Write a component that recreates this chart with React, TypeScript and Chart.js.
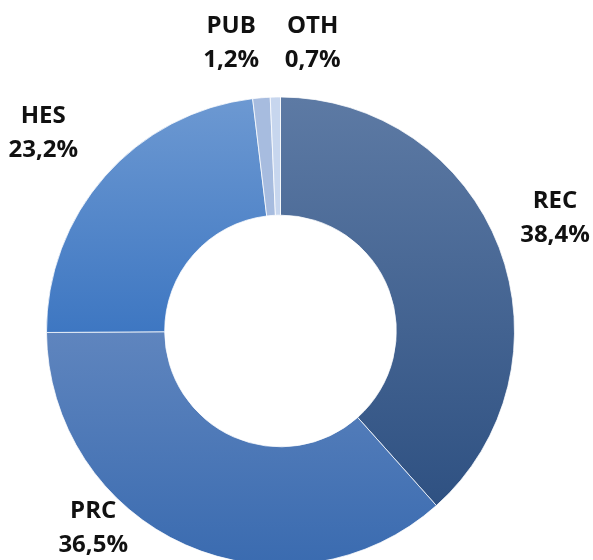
import React, { useEffect, useRef } from "react";
import { Chart, registerables } from "chart.js";

Chart.register(...registerables);

const categories = ["REC", "PRC", "HES", "PUB", "OTH"];
const shares = [38.4, 36.5, 23.2, 1.2, 0.7];

// gradient stops per slice (top -> bottom of the chart area)
const sliceGradients: [number, string][][] = [
  [[0, "#5d7aa4"], [1, "#284b7d"]],
  [[0.5, "#5f85be"], [1, "#3a6bb0"]],
  [[0, "#6d99d2"], [0.5, "#3e77c2"]],
  [[0, "#a7bcdf"], [1, "#a7bcdf"]],
  [[0, "#c7d6ee"], [1, "#c7d6ee"]],
];

// label placement: angle shift (deg) from slice middle, distance outside the ring (px)
const labelPlacement = [
  { shift: -1.8, dist: 63.5 },
  { shift: 19.9, dist: 36.4 },
  { shift: -1.4, dist: 75.7 },
  { shift: -5.0, dist: 59.2 },
  { shift: 7.6, dist: 57.3 },
];

const FONT_FAMILY = "'Open Sans', 'DejaVu Sans', sans-serif";

const fmt = (v: number) => v.toFixed(1).replace(".", ",") + "%";

const labelPlugin = {
  id: "outerLabels",
  afterDraw(chart: any) {
    const ctx = chart.ctx;
    const meta = chart.getDatasetMeta(0);
    ctx.save();
    ctx.font = `bold 24px ${FONT_FAMILY}`;
    ctx.fillStyle = "#111111";
    ctx.textAlign = "center";
    ctx.textBaseline = "alphabetic";
    const capH = 17;
    meta.data.forEach((arc: any, i: number) => {
      const p = arc.getProps(["x", "y", "startAngle", "endAngle", "outerRadius"], true);
      const place = labelPlacement[i];
      const a = (p.startAngle + p.endAngle) / 2 + (place.shift * Math.PI) / 180;
      const r = p.outerRadius + place.dist;
      const cx = p.x + Math.cos(a) * r;
      const cy = p.y + Math.sin(a) * r;
      ctx.fillText(categories[i], cx, cy - 17 + capH / 2);
      ctx.fillText(fmt(shares[i]), cx, cy + 17 + capH / 2);
    });
    ctx.restore();
  },
};

export default function App() {
  const ref = useRef<HTMLCanvasElement | null>(null);
  useEffect(() => {
    if (!ref.current) return;
    const chart = new Chart(ref.current, {
      type: "doughnut",
      data: {
        labels: categories,
        datasets: [
          {
            data: shares,
            backgroundColor: (c: any) => {
              const area = c.chart.chartArea;
              const stops = sliceGradients[c.dataIndex];
              if (!area) return stops[0][1];
              const g = c.chart.ctx.createLinearGradient(0, area.top, 0, area.bottom);
              stops.forEach(([o, col]) => g.addColorStop(o, col));
              return g;
            },
            borderColor: "rgba(255,255,255,0.75)",
            borderWidth: 1,
          },
        ],
      },
      options: {
        responsive: false,
        maintainAspectRatio: false,
        animation: false,
        cutout: "49.5%",
        layout: { padding: { left: 46, top: 96.5, right: 78, bottom: 34.5 } },
        plugins: {
          legend: { display: false },
          tooltip: { enabled: false },
        },
      },
      plugins: [labelPlugin],
    });
    return () => chart.destroy();
  }, []);
  return (
    <div
      style={{
        position: "fixed",
        left: 0,
        top: 0,
        width: 593,
        height: 560,
        overflow: "hidden",
        background: "#ffffff",
      }}
    >
      <canvas ref={ref} width={593} height={600} style={{ display: "block" }} />
    </div>
  );
}
